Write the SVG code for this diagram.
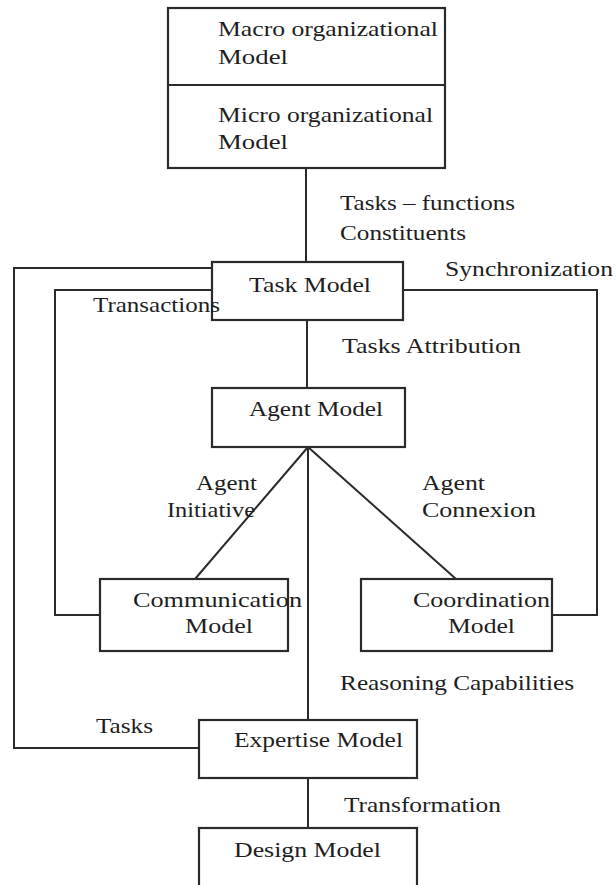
<svg xmlns="http://www.w3.org/2000/svg" width="616" height="885" viewBox="0 0 616 885">
<style>
.box{fill:#fff;stroke:#2a2a2a;stroke-width:2.2}
.ln{fill:none;stroke:#2a2a2a;stroke-width:2}
text{font-family:"Liberation Serif","Times New Roman",serif;font-size:22px;fill:#1e1e1e}
</style>
<rect width="616" height="885" fill="#fff"/>
<g id="connectors">
<path class="ln" d="M306 168 V262"/>
<path class="ln" d="M307 320 V388"/>
<path class="ln" d="M308 447 L195 579"/>
<path class="ln" d="M308 447 L456 579"/>
<path class="ln" d="M308 447 V720"/>
<path class="ln" d="M308 778 V828"/>
<path class="ln" d="M212 268 H14 V748 H199"/>
<path class="ln" d="M212 290 H55 V615 H100"/>
<path class="ln" d="M403 290 H597 V615 H552"/>
<text x="340" y="210" textLength="175" lengthAdjust="spacingAndGlyphs">Tasks – functions</text>
<text x="340" y="240" textLength="126" lengthAdjust="spacingAndGlyphs">Constituents</text>
<text x="445" y="276" textLength="168" lengthAdjust="spacingAndGlyphs">Synchronization</text>
<text x="342" y="353" textLength="179" lengthAdjust="spacingAndGlyphs">Tasks Attribution</text>
<text x="196" y="490" textLength="61" lengthAdjust="spacingAndGlyphs">Agent</text>
<text x="167" y="517" textLength="88" lengthAdjust="spacingAndGlyphs">Initiative</text>
<text x="422" y="490" textLength="63" lengthAdjust="spacingAndGlyphs">Agent</text>
<text x="422" y="517" textLength="114" lengthAdjust="spacingAndGlyphs">Connexion</text>
<text x="340" y="690" textLength="234" lengthAdjust="spacingAndGlyphs">Reasoning Capabilities</text>
<text x="96" y="733" textLength="57" lengthAdjust="spacingAndGlyphs">Tasks</text>
<text x="344" y="812" textLength="157" lengthAdjust="spacingAndGlyphs">Transformation</text>
</g>
<g id="organizational">
<rect class="box" x="168" y="8" width="277" height="160"/>
<line class="ln" x1="168" y1="85" x2="445" y2="85"/>
<text x="218" y="36" textLength="220" lengthAdjust="spacingAndGlyphs">Macro organizational</text>
<text x="218" y="64" textLength="70" lengthAdjust="spacingAndGlyphs">Model</text>
<text x="218" y="122" textLength="215" lengthAdjust="spacingAndGlyphs">Micro organizational</text>
<text x="218" y="149" textLength="70" lengthAdjust="spacingAndGlyphs">Model</text>
</g>
<g id="task">
<rect class="box" x="212" y="262" width="191" height="58"/>
<text x="249" y="292" textLength="122" lengthAdjust="spacingAndGlyphs">Task Model</text>
</g>
<g id="transactions-label">
<text x="93" y="312" textLength="127" lengthAdjust="spacingAndGlyphs">Transactions</text>
</g>
<g id="agent">
<rect class="box" x="212" y="388" width="193" height="59"/>
<text x="249" y="416" textLength="134" lengthAdjust="spacingAndGlyphs">Agent Model</text>
</g>
<g id="communication">
<rect class="box" x="100" y="579" width="188" height="72"/>
<text x="133" y="607" textLength="169" lengthAdjust="spacingAndGlyphs">Communication</text>
<text x="185" y="633" textLength="68" lengthAdjust="spacingAndGlyphs">Model</text>
</g>
<g id="coordination">
<rect class="box" x="361" y="579" width="191" height="72"/>
<text x="413" y="607" textLength="137" lengthAdjust="spacingAndGlyphs">Coordination</text>
<text x="448" y="633" textLength="67" lengthAdjust="spacingAndGlyphs">Model</text>
</g>
<g id="expertise">
<rect class="box" x="199" y="720" width="218" height="58"/>
<text x="234" y="747" textLength="169" lengthAdjust="spacingAndGlyphs">Expertise Model</text>
</g>
<g id="design">
<rect class="box" x="199" y="828" width="218" height="70"/>
<text x="234" y="857" textLength="147" lengthAdjust="spacingAndGlyphs">Design Model</text>
</g>
</svg>
